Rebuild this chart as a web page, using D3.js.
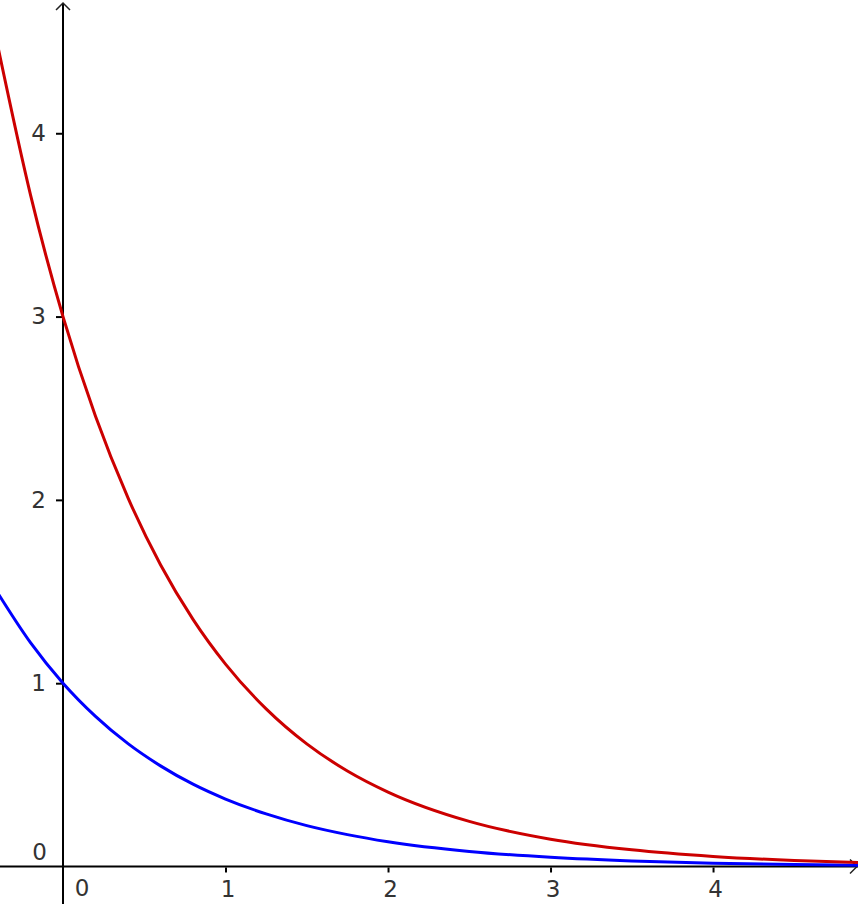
<!DOCTYPE html>
<html>
<head>
<meta charset="utf-8">
<script src="https://cdn.jsdelivr.net/npm/d3@7"></script>
<style>
  html, body { margin: 0; padding: 0; background: #fff; }
  svg { display: block; }
  text { font-family: "DejaVu Sans", sans-serif; }
</style>
</head>
<body>
<svg id="chart" width="858" height="904"></svg>
<script>
const xValues = [-0.4, -0.2, 0, 0.2, 0.4, 0.6, 0.8, 1, 1.25, 1.5, 1.75, 2, 2.5, 3, 3.5, 4, 4.5, 4.9];
// Blue curve values
const blueValues = [1.49, 1.221, 1.0, 0.819, 0.670, 0.549, 0.449, 0.368, 0.287, 0.223, 0.174, 0.135, 0.082, 0.050, 0.030, 0.018, 0.011, 0.007];
// Red curve values
const redValues = [4.47, 3.664, 3.0, 2.456, 2.011, 1.646, 1.348, 1.104, 0.860, 0.669, 0.521, 0.406, 0.246, 0.149, 0.091, 0.055, 0.033, 0.022];
// Tick labels
const xTicks = [0, 1, 2, 3, 4];
const yTicks = [0, 1, 2, 3, 4];

const W = 858, H = 904;
const svg = d3.select("#chart");

const x = d3.scaleLinear().domain([-0.3877, 4.892]).range([0, W]);
const y = d3.scaleLinear().domain([-0.2046, 4.727]).range([H, 0]);

const x0 = x(0), y0 = y(0);
const axisColor = "#000";
const labelColor = "#333";
const fontSize = 23;

// x axis ticks and labels
const xAxis = d3.axisBottom(x).tickValues(xTicks.filter(d => d !== 0)).tickSize(5).tickPadding(8).tickFormat(d3.format("d"));
const gx = svg.append("g").attr("transform", `translate(0,${y0 + 1})`).call(xAxis);
gx.select(".domain").remove();
gx.selectAll(".tick line").attr("stroke", axisColor).attr("stroke-width", 2);
gx.selectAll(".tick text").attr("fill", labelColor).attr("font-size", fontSize).attr("font-family", "DejaVu Sans, sans-serif").attr("dx", 2);

// y axis ticks and labels
const yAxis = d3.axisLeft(y).tickValues(yTicks.filter(d => d !== 0)).tickSize(6).tickPadding(10).tickFormat(d3.format("d"));
const gy = svg.append("g").attr("transform", `translate(${x0 - 1},0)`).call(yAxis);
gy.select(".domain").remove();
gy.selectAll(".tick line").attr("stroke", axisColor).attr("stroke-width", 2);
gy.selectAll(".tick text").attr("fill", labelColor).attr("font-size", fontSize).attr("font-family", "DejaVu Sans, sans-serif");

// origin labels
svg.append("text").attr("x", x0 + 19).attr("y", y0 + 23).attr("text-anchor", "middle")
  .attr("dominant-baseline", "middle").attr("fill", labelColor).attr("font-size", fontSize).text("0");
svg.append("text").attr("x", x0 - 16).attr("y", y0 - 13).attr("text-anchor", "end")
  .attr("dominant-baseline", "middle").attr("fill", labelColor).attr("font-size", fontSize).text("0");

// axis lines
svg.append("line").attr("x1", 0).attr("x2", W).attr("y1", y0).attr("y2", y0)
  .attr("stroke", axisColor).attr("stroke-width", 2);
svg.append("line").attr("x1", x0).attr("x2", x0).attr("y1", 3).attr("y2", H)
  .attr("stroke", axisColor).attr("stroke-width", 2);

// arrow heads
svg.append("path").attr("d", `M${x0 - 7},${10} L${x0},${3} L${x0 + 7},${10}`)
  .attr("fill", "none").attr("stroke", "#222").attr("stroke-width", 1.5);
svg.append("path").attr("d", `M${W - 8},${y0 - 7} L${W - 1},${y0} L${W - 8},${y0 + 7}`)
  .attr("fill", "none").attr("stroke", "#222").attr("stroke-width", 1.5);

// curves
const line = d3.line().x(d => x(d[0])).y(d => y(d[1])).curve(d3.curveMonotoneX);
const blueData = xValues.map((v, i) => [v, blueValues[i]]);
const redData = xValues.map((v, i) => [v, redValues[i]]);

svg.append("path").datum(blueData).attr("d", line)
  .attr("fill", "none").attr("stroke", "#0000ff").attr("stroke-width", 3);
svg.append("path").datum(redData).attr("d", line)
  .attr("fill", "none").attr("stroke", "#cc0000").attr("stroke-width", 3);
</script>
</body>
</html>
